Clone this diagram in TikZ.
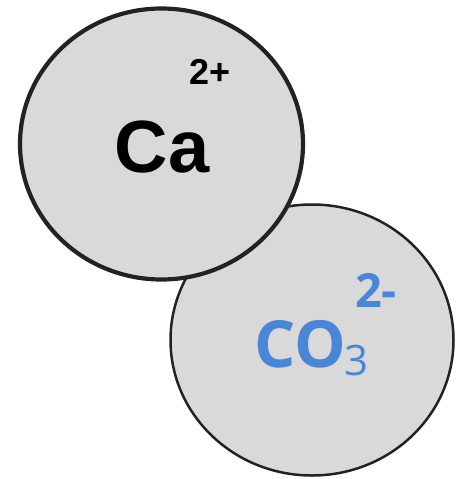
\documentclass[tikz,border=0pt]{standalone}
\usepackage{fontspec}
\usetikzlibrary{shapes.geometric}
\newfontfamily\ionfont{Liberation Sans}
\newfontfamily\anionfont{Open Sans}
\definecolor{ionfill}{HTML}{D9D9D9}
\definecolor{ionline}{HTML}{222222}
\definecolor{anionblue}{HTML}{4A86D8}
\tikzset{
  ion/.style={draw=ionline, fill=ionfill, ellipse, minimum width=283pt, minimum height=271pt, inner sep=0pt},
  label text/.style={inner sep=0pt, anchor=base}
}
\begin{document}
\begin{tikzpicture}[x=1pt, y=-1pt]
    \useasboundingbox (0,0) rectangle (458,479);
    % Ions
    \node[ion, line width=2.5pt] (carbonate) at (312,340) {};
    \node[ion, line width=4.2pt] (calcium) at (161.5,144) {};

    % Calcium label
    \node[label text] (ca) at (162,172) {\ionfont\bfseries\fontsize{74}{74}\selectfont Ca};
    \node[label text] (caCharge) at (210,84) {\ionfont\bfseries\fontsize{36}{36}\selectfont 2+};

    % Carbonate label
    \node[label text, text=anionblue] (co) at (300.5,367) {\anionfont\bfseries\fontsize{65}{65}\selectfont CO};
    \node[label text, text=anionblue] (coSub) at (357,375) {\anionfont\fontsize{42}{42}\selectfont 3};
    \node[label text, text=anionblue] (coCharge) at (376,307) {\anionfont\bfseries\fontsize{47}{47}\selectfont 2-};
\end{tikzpicture}
\end{document}
